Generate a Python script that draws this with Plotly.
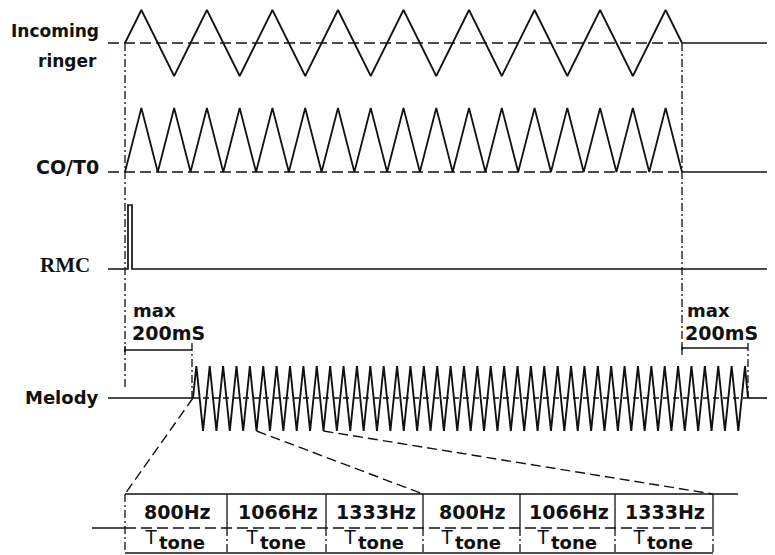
import plotly.graph_objects as go

# ---------------- data (diagram time units = horizontal position) ----------
signal_names = ["Incoming<br>ringer", "CO/T0", "RMC", "Melody"]
ring_start = 125.0          # ringing begins
ring_end = 682.0            # ringing ends
ringer_cycles = 8.5         # cycles of incoming ringer shown
melody_start = 193.0        # melody starts (max 200 mS after ring)
melody_end = 748.0          # melody stops (max 200 mS after ring end)
melody_peaks = 42           # melody triangle peaks drawn
rmc_pulse = [128.0, 132.0]  # RMC pulse start / end
tone_freqs = ["800Hz", "1066Hz", "1333Hz", "800Hz", "1066Hz", "1333Hz"]
tone_edges = [125, 227, 326, 423, 520, 615, 713]
delay_label = ["max", "200mS"]

# ---------------- layout levels (pixel-like y, reversed axis) ---------------
Y_RING, A_RING = 43, 33
Y_CO, A_CO = 172, 64
Y_RMC, A_RMC = 269, 64
Y_MEL, A_MEL_UP, A_MEL_DN = 398, 32, 33
X_LEFT, X_RIGHT = 108, 775
TAB_TOP, TAB_MID, TAB_BOT = 494, 528, 553
OFF = 8  # page body margin compensation

BLACK = "#111111"
fig = go.Figure()


def line(xs, ys, dash="solid", width=1.8):
    fig.add_trace(go.Scatter(x=xs, y=ys, mode="lines",
                             line=dict(color=BLACK, width=width, dash=dash),
                             hoverinfo="skip", showlegend=False))


DASH = "11px,5px"
DASHDOT = "8px,3px,2px,3px"

# ---- Incoming ringer ----
P = (ring_end - ring_start) / ringer_cycles
n_ext = int(round(ringer_cycles * 2))
xs = [ring_start]
ys = [Y_RING]
for k in range(n_ext):
    xs.append(ring_start + P / 4 + k * P / 2)
    ys.append(Y_RING - A_RING if k % 2 == 0 else Y_RING + A_RING)
xs.append(ring_end)
ys.append(Y_RING)
line(xs, ys)
line([X_LEFT, ring_end], [Y_RING, Y_RING], dash=DASH, width=1.6)
line([ring_end, X_RIGHT], [Y_RING, Y_RING], width=1.6)

# ---- CO/T0 (rectified) ----
xs = [ring_start]
ys = [Y_CO]
for k in range(n_ext):
    xs.append(ring_start + P / 4 + k * P / 2)
    ys.append(Y_CO - A_CO)
    xs.append(ring_start + (k + 1) * P / 2)
    ys.append(Y_CO)
line(xs, ys)
line([X_LEFT, ring_end], [Y_CO, Y_CO], dash=DASH, width=1.6)
line([ring_end, X_RIGHT], [Y_CO, Y_CO], width=1.6)

# ---- RMC ----
line([X_LEFT, rmc_pulse[0], rmc_pulse[0], rmc_pulse[1], rmc_pulse[1], X_RIGHT],
     [Y_RMC, Y_RMC, Y_RMC - A_RMC, Y_RMC - A_RMC, Y_RMC, Y_RMC], width=1.7)

# ---- Melody ----
MP = (melody_end - 3 - melody_start) / (melody_peaks - 1 + 0.25)
xs = [melody_start]
ys = [Y_MEL]
mel_ext = []
for k in range(2 * melody_peaks - 1):
    x = melody_start + MP / 4 + k * MP / 2
    y = Y_MEL - A_MEL_UP if k % 2 == 0 else Y_MEL + A_MEL_DN
    xs.append(x)
    ys.append(y)
    mel_ext.append((x, y))
xs.append(melody_end)
ys.append(Y_MEL)
line(xs, ys, width=1.9)
line([X_LEFT, melody_start], [Y_MEL, Y_MEL], width=1.6)
line([melody_start, melody_end], [Y_MEL, Y_MEL], dash="6px,4px", width=1.4)
line([melody_end, X_RIGHT], [Y_MEL, Y_MEL], width=1.6)

# ---- timing markers ----
line([ring_start, ring_start], [Y_RING, 388], dash=DASHDOT, width=1.3)
line([ring_end, ring_end], [Y_RING, 355], dash=DASHDOT, width=1.3)
line([melody_start - 1, melody_start - 1], [343, Y_MEL], dash=DASHDOT, width=1.3)
line([melody_end, melody_end], [343, Y_MEL], dash=DASHDOT, width=1.3)
line([ring_start, melody_start - 1], [350, 350], width=1.4)
line([ring_end, melody_end], [348, 348], width=1.4)
line([ring_start, ring_start], [346, 352], width=1.4)
line([ring_end, ring_end], [344, 350], width=1.4)

# ---- zoom lines to tone table ----
trough1 = mel_ext[9]
trough2 = mel_ext[19]
line([melody_start, tone_edges[0]], [Y_MEL, TAB_TOP], dash="10px,5px", width=1.4)
line([trough1[0], tone_edges[3]], [trough1[1], TAB_TOP], dash="10px,5px", width=1.4)
line([trough2[0], tone_edges[6]], [trough2[1], TAB_TOP], dash="10px,5px", width=1.4)

# ---- tone table ----
line([tone_edges[0], 738], [TAB_TOP, TAB_TOP], width=1.4)
line([tone_edges[0], tone_edges[-1]], [TAB_BOT, TAB_BOT], width=1.4)
line([92, tone_edges[0]], [TAB_MID, TAB_MID], width=1.4)
line([tone_edges[0], tone_edges[-1]], [TAB_MID, TAB_MID], dash=DASH, width=1.4)
for i, xe in enumerate(tone_edges):
    if i == 0:
        line([xe, xe], [TAB_TOP, TAB_BOT], dash=DASHDOT, width=1.3)
    else:
        line([xe, xe], [TAB_TOP, TAB_MID], width=1.3)
        line([xe, xe], [TAB_MID, TAB_BOT], dash=DASHDOT, width=1.3)

# ---------------- text ----------------
ann = []
SANS = "DejaVu Sans"


def text(x, y, s, size, anchor="right", family=SANS, bold=True, yanchor="middle"):
    ann.append(dict(x=x, y=y, xref="x", yref="y", text=("<b>%s</b>" % s) if bold else s,
                    showarrow=False, xanchor=anchor, yanchor=yanchor,
                    font=dict(family=family, size=size, color=BLACK)))


ring_lbl = signal_names[0].split("<br>")
text(101, 31, ring_lbl[0], 17)
text(99, 61, ring_lbl[1], 17)
text(101, 167, signal_names[1], 19)
text(92, 265, signal_names[2], 21, family="Liberation Serif")
text(101, 397, signal_names[3], 18)

text(131, 323, delay_label[0], 18, anchor="left", yanchor="bottom")
text(130, 320, delay_label[1], 19, anchor="left", yanchor="top")
text(685, 323, delay_label[0], 18, anchor="left", yanchor="bottom")
text(683, 320, delay_label[1], 19, anchor="left", yanchor="top")

for i, f in enumerate(tone_freqs):
    cx = (tone_edges[i] + tone_edges[i + 1]) / 2 + 1
    text(cx, 512, f, 19, anchor="center")
    text(cx - 18, 537, "T", 20, anchor="right", bold=False, family="Liberation Sans")
    text(cx + 5, 542, "tone", 18, anchor="center")

fig.update_layout(
    width=775, height=555,
    margin=dict(l=0, r=0, t=0, b=0),
    paper_bgcolor="white", plot_bgcolor="white",
    xaxis=dict(range=[OFF, 775 + OFF], visible=False, fixedrange=True),
    yaxis=dict(range=[555 + OFF, OFF], visible=False, fixedrange=True),
    annotations=ann,
    showlegend=False,
)

fig.write_html("out.html")
